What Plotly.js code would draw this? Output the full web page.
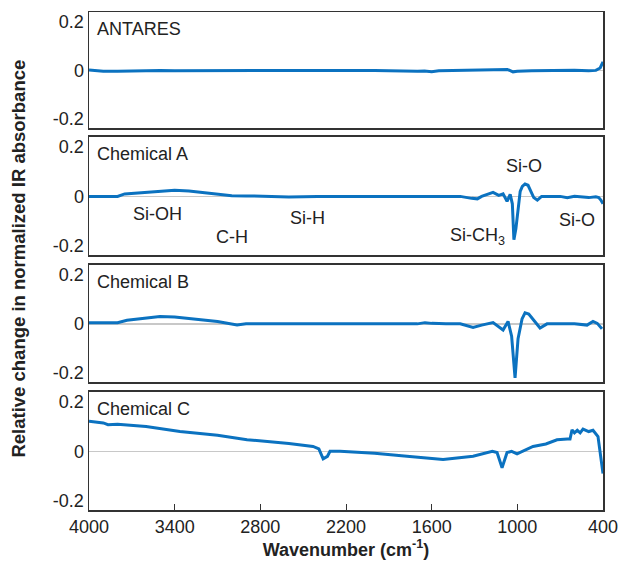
<!DOCTYPE html>
<html>
<head>
<meta charset="utf-8">
<script src="https://cdn.plot.ly/plotly-3.0.1.min.js"></script>
<style>html,body{margin:0;padding:0;background:#fff;}#chart{width:619px;height:565px;}</style>
</head>
<body>
<div id="chart"></div>
<script>
// ---- data ----
var panelNames = ["ANTARES", "Chemical A", "Chemical B", "Chemical C"];
var xTickVals = [4000, 3400, 2800, 2200, 1600, 1000, 400];
var yTickVals = [-0.2, 0, 0.2];
var yTickText = ["-0.2", "0", "0.2"];

var antaresX = [4000,3950,3900,3800,3700,3600,3500,3400,3200,3000,2800,2600,2400,2200,2000,1900,1800,1700,1650,1600,1550,1400,1200,1100,1070,1030,1000,900,800,700,600,500,450,420,410,400];
var antaresY = [0.002,0.0,-0.004,-0.004,-0.002,-0.003,0.0,-0.001,0.0,-0.002,0.0,0.0,-0.001,0.0,0.0,-0.002,-0.003,-0.004,-0.003,-0.006,-0.002,0.0,0.0,0.003,0.004,-0.006,-0.004,-0.001,0.0,-0.001,0.001,-0.002,0.0,0.01,0.02,0.035];

var chemAX = [4000,3900,3800,3750,3700,3600,3500,3400,3300,3200,3100,3000,2900,2800,2600,2400,2200,2000,1800,1650,1600,1400,1320,1280,1250,1200,1170,1130,1100,1072,1050,1035,1024,1010,995,980,965,946,925,905,885,860,830,800,700,650,600,500,450,430,415,400];
var chemAY = [0.0,0.0,0.0,0.01,0.012,0.018,0.022,0.025,0.022,0.016,0.008,0.003,0.002,0.0,-0.002,0.0,0.0,0.0,0.0,0.003,0.002,0.0,-0.008,-0.01,0.0,0.012,0.016,0.004,0.01,-0.02,0.008,-0.03,-0.175,-0.13,-0.04,0.02,0.04,0.05,0.045,0.02,-0.005,-0.015,0.0,0.0,0.0,-0.005,0.0,-0.005,-0.002,-0.005,-0.015,-0.03];

var chemBX = [4000,3900,3800,3734,3650,3503,3400,3300,3200,3100,2963,2900,2800,2600,2400,2200,2000,1800,1700,1647,1600,1500,1400,1310,1250,1170,1100,1065,1040,1016,995,967,946,920,890,841,792,700,600,512,470,440,420,407];
var chemBY = [0.005,0.006,0.005,0.015,0.02,0.03,0.028,0.022,0.016,0.01,-0.005,0.0,0.0,0.0,0.0,0.0,0.0,0.0,0.0,0.005,0.002,0.0,0.0,-0.015,-0.005,0.005,-0.025,0.01,-0.05,-0.22,-0.06,0.02,0.045,0.04,0.02,-0.017,0.0,0.0,0.0,-0.005,0.01,0.002,-0.01,-0.02];

var chemCX = [4000,3950,3900,3867,3800,3600,3363,3100,2893,2600,2431,2390,2360,2330,2312,2242,2000,1773,1520,1310,1175,1142,1107,1072,1040,1002,967,890,800,722,650,631,617,600,580,560,540,500,470,435,421,410,400];
var chemCY = [0.122,0.118,0.115,0.108,0.11,0.1,0.08,0.065,0.047,0.032,0.02,0.01,-0.03,-0.02,0.0,0.0,-0.008,-0.02,-0.033,-0.02,0.0,-0.005,-0.066,-0.005,0.0,-0.01,0.0,0.02,0.03,0.047,0.05,0.05,0.087,0.075,0.085,0.075,0.09,0.08,0.085,0.06,0.0,-0.05,-0.09];

var annText = ["Si-OH", "C-H", "Si-H", "Si-CH<sub>3</sub>", "Si-O", "Si-O"];
var annX = [3517, 2998, 2473, 1282, 953, 582];
var annY = [-0.073, -0.163, -0.086, -0.163, 0.122, -0.094];

// ---- figure ----
var seriesX = [antaresX, chemAX, chemBX, chemCX];
var seriesY = [antaresY, chemAY, chemBY, chemCY];
var lineColor = "#0b72c0";
var font = "'Liberation Sans Narrow', 'Arial Narrow', 'Liberation Sans', Arial, sans-serif";
var fs = 18;

var traces = [];
for (var i = 0; i < 4; i++) {
  traces.push({
    x: seriesX[i], y: seriesY[i], type: "scatter", mode: "lines",
    line: {color: lineColor, width: 3},
    xaxis: i === 0 ? "x" : "x" + (i + 1),
    yaxis: i === 0 ? "y" : "y" + (i + 1),
    hoverinfo: "skip", showlegend: false
  });
}

var domains = [[0.767, 1.0], [0.512, 0.749], [0.257, 0.492], [0.0, 0.237]];
var layout = {
  width: 619, height: 565,
  margin: {l: 89, r: 16, t: 12, b: 55},
  paper_bgcolor: "#fff", plot_bgcolor: "#fff",
  font: {family: font, size: fs, color: "#222"},
  showlegend: false,
  annotations: [],
  shapes: []
};
for (var i = 0; i < 4; i++) {
  var xk = i === 0 ? "xaxis" : "xaxis" + (i + 1);
  var yk = i === 0 ? "yaxis" : "yaxis" + (i + 1);
  var yref = i === 0 ? "y" : "y" + (i + 1);
  var xref = i === 0 ? "x" : "x" + (i + 1);
  var isBottom = (i === 3);
  layout[xk] = {
    range: [4000, 400], anchor: yref,
    showline: true, mirror: true, linecolor: "#333", linewidth: 1.5,
    showgrid: false, zeroline: false,
    tickvals: xTickVals, ticktext: xTickVals.map(String),
    ticks: isBottom ? "inside" : "", ticklen: 6, tickcolor: "#333", tickwidth: 1,
    showticklabels: isBottom, ticklabeloverflow: "allow",
    tickfont: {family: font, size: fs, color: "#222"},
    fixedrange: true
  };
  if (i > 0) layout[xk].matches = "x";
  if (isBottom) {
    layout[xk].title = {text: "<b>Wavenumber (cm<sup>-1</sup>)</b>", font: {family: font, size: fs, color: "#222"}, standoff: 6};
  }
  layout[yk] = {
    domain: domains[i], anchor: xref,
    range: [-0.237, 0.24],
    showline: true, mirror: true, linecolor: "#333", linewidth: 1.5,
    showgrid: false,
    zeroline: true, zerolinecolor: "#c8c8c8", zerolinewidth: 1.5,
    tickvals: yTickVals, ticktext: yTickText, ticks: "",
    tickfont: {family: font, size: fs, color: "#222"},
    fixedrange: true
  };
  layout.annotations.push({
    text: panelNames[i], xref: xref + " domain", yref: yref + " domain",
    x: 0.012, y: 0.96, xanchor: "left", yanchor: "top", showarrow: false,
    font: {family: font, size: fs, color: "#222"}
  });
}
for (var j = 0; j < annText.length; j++) {
  layout.annotations.push({
    text: annText[j], x: annX[j], y: annY[j], xref: "x2", yref: "y2",
    showarrow: false, xanchor: "center", yanchor: "middle",
    font: {family: font, size: fs, color: "#222"}
  });
}
layout.annotations.push({
  text: "<b>Relative change in normalized IR absorbance</b>",
  xref: "paper", yref: "paper", x: -0.138, y: 0.505, textangle: -90,
  xanchor: "center", yanchor: "middle", showarrow: false,
  font: {family: font, size: 18.5, color: "#222"}
});

Plotly.newPlot("chart", traces, layout, {displayModeBar: false, staticPlot: true});
</script>
</body>
</html>
